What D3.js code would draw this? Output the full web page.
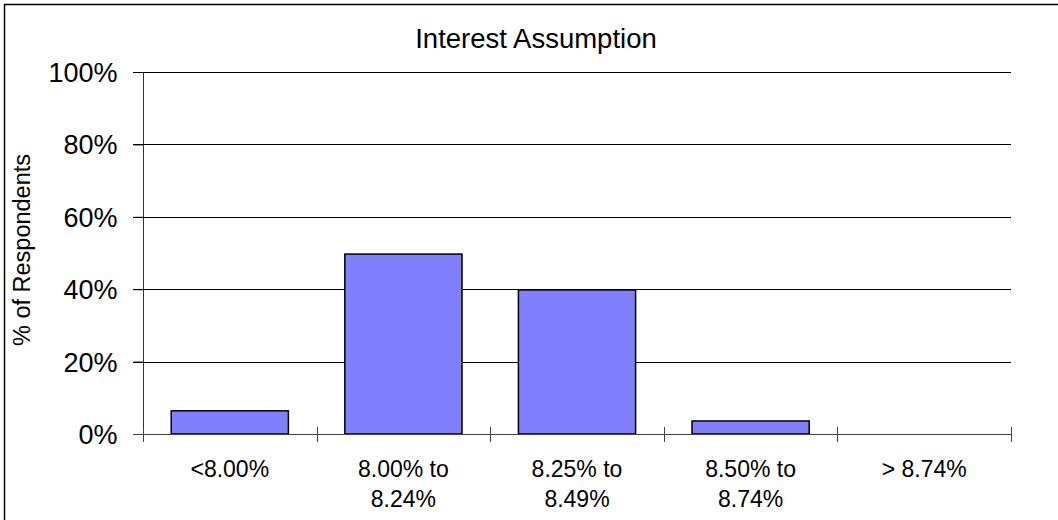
<!DOCTYPE html>
<html>
<head>
<meta charset="utf-8">
<script src="https://cdn.jsdelivr.net/npm/d3@7"></script>
<style>
  html, body { margin: 0; padding: 0; background: #fff; }
  svg { display: block; font-family: "Liberation Sans", Arial, sans-serif; }
</style>
</head>
<body>
<svg id="chart" width="1058" height="520"></svg>
<script>
const title = "Interest Assumption";
const yLabel = "% of Respondents";
const categories = [["<8.00%"], ["8.00% to", "8.24%"], ["8.25% to", "8.49%"], ["8.50% to", "8.74%"], ["> 8.74%"]];
const values = [6.4, 49.7, 39.8, 3.6, 0];
const yTicks = [0, 20, 40, 60, 80, 100];

const svg = d3.select("#chart");
const W = 1058, H = 520;
const m = { left: 143, right: 1011, top: 72, bottom: 434 };

// outer border (top & left visible)
svg.append("rect").attr("x", 4.5).attr("y", 4.5).attr("width", W + 10).attr("height", H + 10)
  .attr("fill", "#fff").attr("stroke", "#000").attr("stroke-width", 1.5);

const x = d3.scaleBand().domain(d3.range(categories.length)).range([m.left, m.right]).padding(0);
const y = d3.scaleLinear().domain([0, 100]).range([m.bottom, m.top]);

// gridlines
svg.append("g").selectAll("line").data(yTicks.filter(d => d > 0)).join("line")
  .attr("x1", m.left - 10).attr("x2", m.right)
  .attr("y1", d => Math.round(y(d)) + 0.5).attr("y2", d => Math.round(y(d)) + 0.5)
  .attr("stroke", "#000").attr("stroke-width", 1);

// y axis
const yAxis = d3.axisLeft(y).tickValues(yTicks).tickSize(10).tickPadding(16).tickFormat(d => d + "%");
const gy = svg.append("g").attr("transform", `translate(${m.left + 0.5},0)`).call(yAxis);
gy.select(".domain").attr("stroke", "#333").attr("d", `M0,${m.top}V${m.bottom}`);
gy.selectAll(".tick line").attr("stroke", "#000");
gy.selectAll(".tick text").attr("font-size", 27).attr("fill", "#000")
  .attr("font-family", "Liberation Sans, Arial, sans-serif").attr("dy", "0.35em");

// bars
const barW = x.bandwidth() * 0.675;
svg.append("g").selectAll("rect").data(values).join("rect")
  .attr("x", (d, i) => x(i) + (x.bandwidth() - barW) / 2)
  .attr("width", barW)
  .attr("y", d => y(d))
  .attr("height", d => y(0) - y(d))
  .attr("fill", "#8080FF").attr("stroke", "#000").attr("stroke-width", 1.5)
  .attr("display", d => d > 0 ? null : "none");

// x axis baseline & ticks
svg.append("line").attr("x1", m.left - 10).attr("x2", m.right)
  .attr("y1", m.bottom + 0.5).attr("y2", m.bottom + 0.5).attr("stroke", "#444").attr("stroke-width", 1);
const boundaries = d3.range(categories.length + 1).map(i => i < categories.length ? x(i) : m.right);
svg.append("g").selectAll("line").data(boundaries).join("line")
  .attr("x1", d => Math.round(d) + 0.5).attr("x2", d => Math.round(d) + 0.5)
  .attr("y1", m.bottom - 7).attr("y2", m.bottom + 8)
  .attr("stroke", "#444").attr("stroke-width", 1);

// category labels
const cl = svg.append("g").selectAll("text").data(categories).join("text")
  .attr("x", (d, i) => x(i) + x.bandwidth() / 2)
  .attr("y", 477)
  .attr("text-anchor", "middle").attr("font-size", 23).attr("fill", "#000");
cl.selectAll("tspan").data(d => d).join("tspan")
  .attr("x", function() { return this.parentNode.getAttribute("x"); })
  .attr("dy", (d, i) => i === 0 ? 0 : 30)
  .text(d => d);

// title
svg.append("text").attr("x", 536).attr("y", 48).attr("text-anchor", "middle")
  .attr("font-size", 27.5).attr("fill", "#000").text(title);

// y label
svg.append("text").attr("transform", "translate(30,250) rotate(-90)")
  .attr("text-anchor", "middle").attr("font-size", 23.5).attr("fill", "#000").text(yLabel);
</script>
</body>
</html>
